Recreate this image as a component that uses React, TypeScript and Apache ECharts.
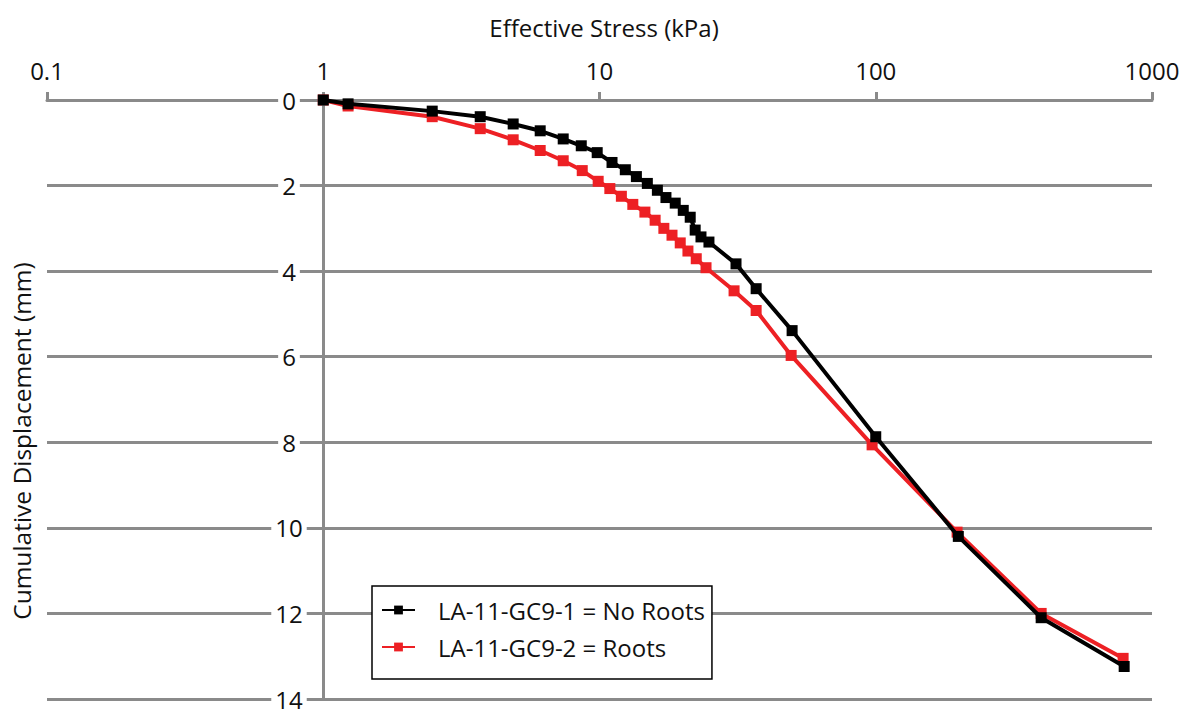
import React, { useEffect, useRef } from "react";
import * as echarts from "echarts";

const xTitle = "Effective Stress (kPa)";
const yTitle = "Cumulative Displacement (mm)";
const seriesNames = ["LA-11-GC9-1 = No Roots", "LA-11-GC9-2 = Roots"];

const noRootsStress = [1, 1.23, 2.48, 3.7, 4.87, 6.1, 7.39, 8.59, 9.81, 11.1, 12.4, 13.6, 14.9, 16.2, 17.4, 18.8, 20.1, 21.3, 22.2, 23.3, 24.9, 31.2, 36.9, 49.8, 100, 199, 397, 793];
const noRootsDisp = [0, 0.09, 0.26, 0.39, 0.56, 0.72, 0.91, 1.07, 1.23, 1.46, 1.63, 1.79, 1.95, 2.11, 2.28, 2.41, 2.58, 2.74, 3.04, 3.2, 3.32, 3.83, 4.41, 5.39, 7.87, 10.2, 12.1, 13.24];

const rootsStress = [1, 1.23, 2.48, 3.7, 4.87, 6.1, 7.39, 8.66, 9.89, 10.9, 12.0, 13.2, 14.6, 15.9, 17.1, 18.3, 19.6, 20.9, 22.4, 24.3, 30.7, 36.9, 49.4, 97, 197, 397, 786];
const rootsDisp = [0, 0.14, 0.39, 0.67, 0.93, 1.18, 1.42, 1.65, 1.9, 2.07, 2.25, 2.44, 2.62, 2.81, 3.0, 3.16, 3.34, 3.53, 3.71, 3.92, 4.46, 4.92, 5.97, 8.06, 10.1, 12.0, 13.05];

const FONT = "'Open Sans', sans-serif";
const GRAY = "#8a8a8a";

export default function App() {
  const ref = useRef<HTMLDivElement>(null);
  useEffect(() => {
    if (!ref.current) return;
    const chart = echarts.init(ref.current, null, { renderer: "svg" });
    const zip = (xs: number[], ys: number[]) => xs.map((x, i) => [x, ys[i]]);
    chart.setOption({
      animation: false,
      backgroundColor: "#fff",
      textStyle: { fontFamily: FONT },
      grid: { left: 47, right: 44, top: 100, bottom: 8.3 },
      xAxis: {
        type: "log",
        logBase: 10,
        min: 0.1,
        max: 1000,
        position: "top",
        z: 1,
        axisLine: { show: true, lineStyle: { color: GRAY, width: 3 } },
        axisTick: { show: true, inside: false, length: 8, lineStyle: { color: GRAY, width: 3 } },
        axisLabel: { margin: 18, fontSize: 24, color: "#111", fontFamily: FONT, formatter: (v: number) => String(v) },
        splitLine: { show: false },
        minorTick: { show: false },
      },
      yAxis: [
        {
          type: "value",
          position: "left",
          inverse: true,
          min: 0,
          max: 14,
          interval: 2,
          z: 0,
          axisLine: { show: false },
          axisTick: { show: false },
          axisLabel: { show: false },
          splitLine: { show: true, lineStyle: { color: GRAY, width: 3 } },
        },
        {
          type: "value",
          position: "left",
          offset: 0,
          inverse: true,
          min: 0,
          max: 14,
          interval: 2,
          z: 3,
          axisLine: { show: false },
          axisTick: { show: false },
          splitLine: { show: false },
          axisLabel: {
            show: true,
            align: "center",
            margin: -242,
            fontSize: 24,
            color: "#111",
            fontFamily: FONT,
            backgroundColor: "#fff",
            padding: [0, 4, 0, 4],
          },
        },
      ],
      legend: {
        orient: "vertical",
        left: 372,
        top: 586,
        data: seriesNames,
        backgroundColor: "#fff",
        borderColor: "#000",
        borderWidth: 1.5,
        borderRadius: 0,
        padding: [12, 7, 20, 9],
        itemWidth: 33,
        itemHeight: 11,
        itemGap: 13,
        textStyle: { fontSize: 24, lineHeight: 24, color: "#111", fontFamily: FONT, padding: [0, 0, 0, 18] },
      },
      graphic: [
        {
          type: "text",
          x: 604,
          y: 27,
          style: { text: xTitle, font: `24px ${FONT}`, fill: "#111", textAlign: "center", textVerticalAlign: "middle" },
        },
        {
          type: "text",
          x: 21,
          y: 441,
          rotation: Math.PI / 2,
          style: { text: yTitle, font: `24.5px ${FONT}`, fill: "#111", textAlign: "center", textVerticalAlign: "middle" },
        },
      ],
      series: [
        {
          name: "axisAtOne",
          type: "line",
          data: [],
          z: 1,
          silent: true,
          markLine: {
            silent: true,
            symbol: "none",
            label: { show: false },
            lineStyle: { color: GRAY, width: 3, type: "solid" },
            data: [{ xAxis: 1 }],
          },
        },
        {
          name: seriesNames[1],
          type: "line",
          data: zip(rootsStress, rootsDisp),
          symbol: "rect",
          symbolSize: 11,
          color: "#ed2024",
          lineStyle: { width: 4, color: "#ed2024" },
          itemStyle: { color: "#ed2024" },
          z: 4,
        },
        {
          name: seriesNames[0],
          type: "line",
          data: zip(noRootsStress, noRootsDisp),
          symbol: "rect",
          symbolSize: 11,
          color: "#000",
          lineStyle: { width: 4, color: "#000" },
          itemStyle: { color: "#000" },
          z: 5,
        },
      ],
    });
    return () => chart.dispose();
  }, []);
  return <div ref={ref} style={{ position: "fixed", left: 0, top: 0, width: 1196, height: 711 }} />;
}
